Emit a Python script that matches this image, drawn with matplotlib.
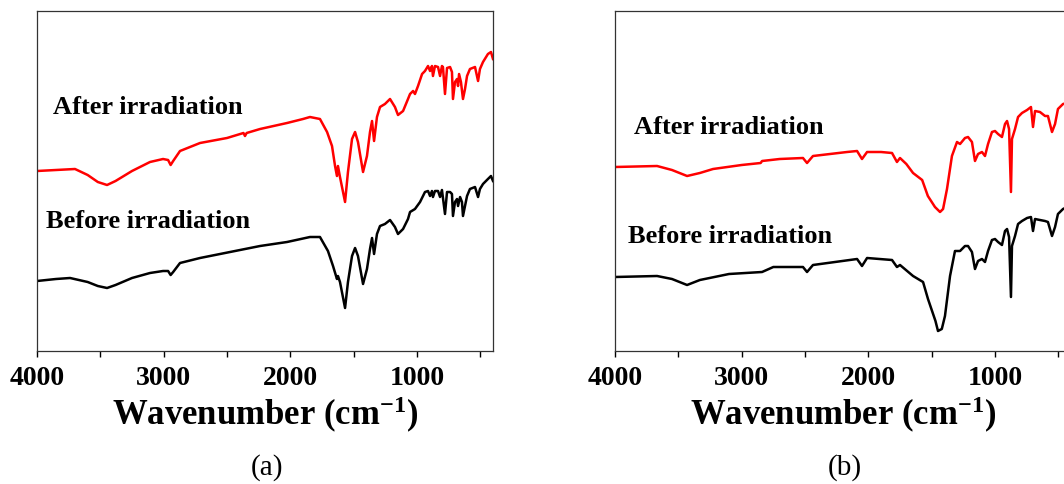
import numpy as np
import matplotlib
matplotlib.use('Agg')
import matplotlib.pyplot as plt

plt.rcParams['font.family'] = 'Liberation Serif'
plt.rcParams['mathtext.fontset'] = 'custom'
plt.rcParams['mathtext.rm'] = 'Liberation Serif:bold'
plt.rcParams['mathtext.bf'] = 'Liberation Serif:bold'
plt.rcParams['mathtext.it'] = 'Liberation Serif:bold'

# panel (a): wavenumber [cm-1] and transmittance [a.u.]
wn_a_after = [4000, 3850, 3700, 3600, 3520, 3447, 3380, 3250, 3108, 3005, 2965, 2945, 2925,
              2871, 2713, 2500, 2370, 2358, 2345, 2239, 2026, 1900, 1845, 1766, 1710, 1671,
              1647, 1632, 1624, 1608, 1568, 1545, 1513, 1489, 1466, 1426, 1395, 1371, 1355,
              1339, 1316, 1292, 1253, 1213, 1174, 1150, 1110, 1071, 1055, 1031, 1016, 992,
              960, 937, 913, 897, 882, 874, 858, 834, 818, 803, 795, 779, 763, 739, 724, 716,
              700, 684, 676, 668, 653, 637, 621, 605, 582, 542, 518, 503, 479, 440, 416, 400]
t_a_after = [180, 181, 182, 176, 169, 166, 170, 180, 189, 192, 191, 186, 190,
             200, 208, 213, 218, 215, 218, 222, 228, 232, 234, 232, 219, 205,
             185, 175, 185, 174, 149, 179, 212, 219, 209, 179, 195, 219, 230,
             210, 234, 244, 247, 252, 244, 236, 240, 252, 257, 260, 257, 265,
             277, 280, 285, 280, 285, 275, 285, 284, 275, 285, 284, 257, 283, 284, 279, 252,
             269, 272, 265, 277, 269, 252, 262, 275, 282, 284, 270, 282, 289, 297, 299, 292]

wn_a_before = [4000, 3850, 3739, 3600, 3520, 3447, 3380, 3250, 3108, 3005, 2965, 2945, 2925,
               2871, 2713, 2476, 2239, 2026, 1845, 1766, 1703, 1663, 1632, 1624, 1608, 1568,
               1545, 1513, 1489, 1466, 1426, 1395, 1371, 1355, 1339, 1316, 1292, 1253, 1213,
               1174, 1150, 1110, 1071, 1055, 1016, 976, 937, 913, 897, 882, 874, 858, 834,
               818, 803, 779, 763, 739, 724, 716, 700, 684, 676, 660, 645, 637, 621, 605,
               582, 542, 518, 503, 479, 440, 416, 400]
t_a_before = [70, 72, 73, 69, 65, 63, 66, 73, 78, 80, 80, 76, 79,
              88, 93, 99, 105, 109, 114, 114, 100, 85, 72, 75, 69, 43,
              69, 95, 103, 95, 67, 82, 102, 113, 97, 117, 125, 127, 131,
              124, 117, 122, 132, 139, 142, 149, 159, 160, 155, 160, 154, 160, 160,
              154, 161, 137, 159, 159, 157, 135, 149, 152, 145, 154, 149, 135, 145, 155,
              162, 164, 154, 162, 167, 172, 175, 170]

# panel (b)
wn_b_after = [4000, 3668, 3550, 3431, 3330, 3226, 3000, 2850, 2839, 2700, 2516, 2484, 2437,
              2168, 2089, 2050, 2010, 1900, 1813, 1774, 1750, 1700, 1647, 1575, 1530, 1474,
              1434, 1410, 1379, 1340, 1300, 1276, 1237, 1213, 1182, 1158, 1134, 1103, 1079,
              1055, 1024, 1000, 976, 945, 921, 905, 889, 874, 866, 842, 818, 787, 747, 716,
              700, 684, 645, 605, 582, 550, 526, 503, 463, 430, 400]
t_b_after = [184, 185, 181, 175, 178, 182, 186, 188, 190, 192, 193, 188, 195,
             199, 200, 192, 199, 199, 198, 189, 193, 187, 178, 171, 155, 144,
             139, 142, 162, 195, 209, 207, 213, 214, 209, 190, 197, 199, 195,
             207, 219, 220, 217, 214, 227, 230, 222, 159, 212, 222, 234, 238, 241, 244,
             224, 240, 239, 235, 235, 219, 227, 242, 247, 248, 249]

wn_b_before = [4000, 3668, 3550, 3431, 3330, 3100, 2839, 2750, 2516, 2484, 2437, 2089, 2050,
               2010, 1813, 1774, 1750, 1647, 1568, 1529, 1470, 1450, 1420, 1395, 1355, 1316,
               1276, 1237, 1213, 1182, 1158, 1134, 1103, 1079, 1055, 1024, 1000, 976, 945,
               921, 905, 889, 874, 866, 842, 818, 787, 747, 716, 700, 684, 645, 605, 582,
               550, 526, 503, 463, 430, 400]
t_b_before = [74, 75, 72, 66, 71, 77, 79, 84, 84, 79, 86, 92, 85,
              93, 91, 84, 86, 75, 69, 52, 30, 20, 22, 35, 75, 100,
              100, 105, 105, 99, 82, 90, 92, 89, 100, 111, 112, 109, 106,
              120, 122, 114, 54, 105, 115, 127, 130, 133, 134, 120, 132, 131, 130, 129,
              115, 124, 137, 142, 144, 145]

ticks = [4000, 3000, 2000, 1000]
minor_ticks = [3500, 2500, 1500, 500]

panels = [
    (wn_a_after, t_a_after, wn_a_before, t_a_before, '(a)', 37,
     (3874, 244), (3929, 130)),
    (wn_b_after, t_b_after, wn_b_before, t_b_before, '(b)', 615,
     (3850, 225), (3897, 115)),
]

fig = plt.figure(figsize=(10.64, 4.85), dpi=100)
W, H = 1064, 485
for wa, ta, wb, tb, tag, left, pos_after, pos_before in panels:
    ax = fig.add_axes([left / W, (485 - 352) / H, 456 / W, 340 / H])
    ax.plot(wa, ta, color='#ff0000', lw=1.8)
    ax.plot(wb, tb, color='black', lw=1.8)
    ax.set_xlim(4000, 400)
    ax.set_ylim(0, 340)
    ax.set_yticks([])
    ax.set_xticks(ticks)
    ax.set_xticks(minor_ticks, minor=True)
    ax.tick_params(axis='x', which='both', direction='out', length=4, width=1, pad=6)
    for lbl in ax.get_xticklabels():
        lbl.set_fontsize(20)
        lbl.set_fontweight('bold')
    for s in ax.spines.values():
        s.set_linewidth(0.9)
        s.set_color('#333333')
    ax.set_xlabel(r'Wavenumber (cm$^{-1}$)', fontsize=25, fontweight='bold', labelpad=3)
    ax.text(pos_after[0], pos_after[1], 'After irradiation', fontsize=19,
            fontweight='bold', ha='left', va='center')
    ax.text(pos_before[0], pos_before[1], 'Before irradiation', fontsize=19,
            fontweight='bold', ha='left', va='center')
    fig.text((left + 230) / W, 1 - 468 / H, tag, fontsize=21, ha='center', va='center')

fig.savefig('out.png', dpi=100)
